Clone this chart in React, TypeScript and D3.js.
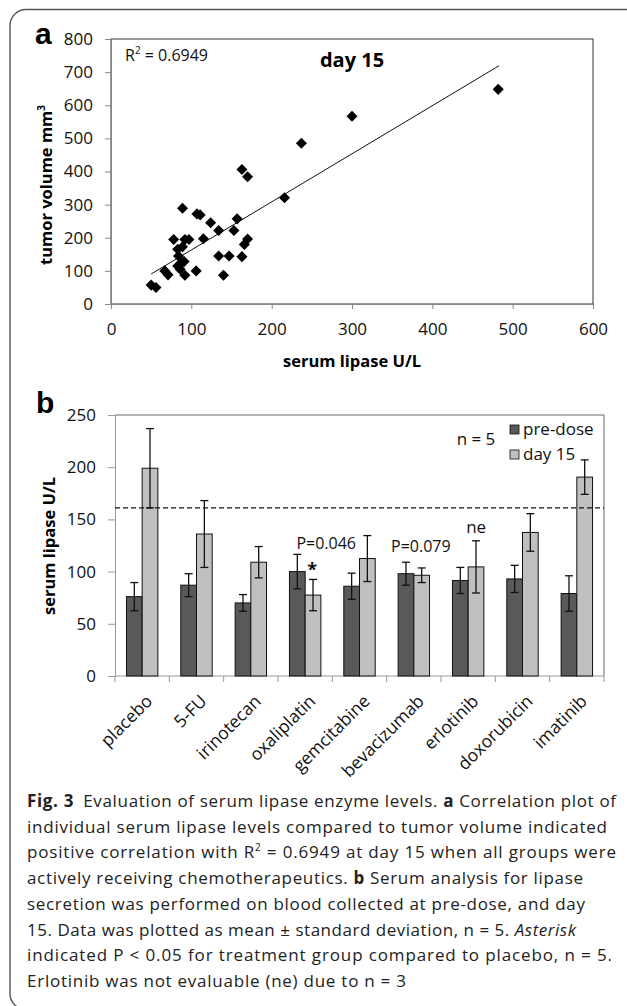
import * as d3 from "d3";
import React, { Component } from "react";

// panel a: individual animals at day 15
const lipase = [50, 56, 67, 71, 78, 83, 84, 83, 86, 88, 91, 89, 92, 97, 89, 92, 106, 107, 111, 115, 124, 134, 134, 140, 147, 153, 157, 163, 170, 163, 166, 170, 216, 237, 300, 482];
const volume = [57, 50, 100, 88, 195, 165, 145, 115, 105, 125, 128, 173, 195, 195, 289, 87, 100, 272, 269, 197, 245, 222, 145, 87, 145, 222, 257, 406, 384, 143, 180, 196, 321, 485, 567, 648];
const trendSlope = 1.452;
const trendIntercept = 17.9;
const trendRange = [50, 483];
const rSquared = "0.6949";
const scatterXTicks = [0, 100, 200, 300, 400, 500, 600];
const scatterYTicks = [0, 100, 200, 300, 400, 500, 600, 700, 800];

// panel b: group means +/- sd
const drugs = ["placebo", "5-FU", "irinotecan", "oxaliplatin", "gemcitabine", "bevacizumab", "erlotinib", "doxorubicin", "imatinib"];
const preDose = [76, 87, 70, 100, 86, 98, 91.5, 93, 79];
const preDoseSd = [13.5, 11, 8, 16.5, 12.5, 11, 12.5, 13, 17];
const day15 = [199, 136, 109, 77.5, 112.5, 96.5, 104.5, 137.5, 190.5];
const day15Sd = [38, 32, 15, 15, 22, 7, 25, 18, 16.5];
const barYTicks = [0, 50, 100, 150, 200, 250];
const upperNormal = 161;
const notes = [
  { drug: "oxaliplatin", value: 121.5, dx: 21, text: "P=0.046", size: 16, bold: false },
  { drug: "oxaliplatin", value: 95.5, dx: 7, text: "*", size: 18, bold: true },
  { drug: "bevacizumab", value: 119, dx: 7, text: "P=0.079", size: 16, bold: false },
  { drug: "erlotinib", value: 137, dx: 8, text: "ne", size: 17, bold: false },
];

const FONT = "'Open Sans', 'Liberation Sans', sans-serif";

const caption = [
  [{ t: "Fig. 3", w: 700 }, { t: "\u2002Evaluation of serum lipase enzyme levels. " }, { t: "a", w: 700 }, { t: " Correlation plot of" }],
  [{ t: "individual serum lipase levels compared to tumor volume indicated" }],
  [{ t: "positive correlation with R" }, { t: "2", sup: true }, { t: " = 0.6949 at day 15 when all groups were" }],
  [{ t: "actively receiving chemotherapeutics. " }, { t: "b", w: 700 }, { t: " Serum analysis for lipase" }],
  [{ t: "secretion was performed on blood collected at pre-dose, and day" }],
  [{ t: "15. Data was plotted as mean \u00b1 standard deviation, n = 5. " }, { t: "Asterisk", it: true }],
  [{ t: "indicated P < 0.05 for treatment group compared to placebo, n = 5." }],
  [{ t: "Erlotinib was not evaluable (ne) due to n = 3" }],
];
const captionRight = [616, 607, 616, 583, 585, 576, 612, 406];

export default class App extends Component {
  chartRef: any;
  componentDidMount(): void {
    const W = 627;
    const H = 1006;
    const svg = d3.select(this.chartRef).attr("width", W).attr("height", H);
    svg.selectAll("*").remove();

    svg
      .append("rect")
      .attr("x", 10)
      .attr("y", 9.5)
      .attr("width", 640)
      .attr("height", 1000)
      .attr("rx", 16)
      .attr("fill", "none")
      .attr("stroke", "#555")
      .attr("stroke-width", 1.4);

    // ---------- panel a ----------
    const xS = d3.scaleLinear().domain([0, 600]).range([111, 593]);
    const yS = d3.scaleLinear().domain([0, 800]).range([304, 39]);
    const a = svg.append("g").attr("font-family", FONT);

    a.append("rect")
      .attr("x", 111)
      .attr("y", 39)
      .attr("width", 482)
      .attr("height", 265)
      .attr("fill", "none")
      .attr("stroke", "#333")
      .attr("stroke-width", 1);

    a.append("g")
      .attr("transform", "translate(0,304)")
      .call(d3.axisBottom(xS).tickValues(scatterXTicks).tickSize(5).tickPadding(14))
      .call((g) => g.select(".domain").attr("stroke", "#888"))
      .call((g) => g.selectAll(".tick line").attr("stroke", "#888"))
      .call((g) => g.selectAll(".tick text").attr("font-size", 17).attr("fill", "#111").attr("font-family", FONT));

    a.append("g")
      .attr("transform", "translate(111,0)")
      .call(d3.axisLeft(yS).tickValues(scatterYTicks).tickSize(6).tickPadding(12))
      .call((g) => g.select(".domain").attr("stroke", "#888"))
      .call((g) => g.selectAll(".tick line").attr("stroke", "#888"))
      .call((g) => g.selectAll(".tick text").attr("font-size", 17).attr("fill", "#111").attr("font-family", FONT));

    a.append("line")
      .attr("x1", xS(trendRange[0]))
      .attr("y1", yS(trendSlope * trendRange[0] + trendIntercept))
      .attr("x2", xS(trendRange[1]))
      .attr("y2", yS(trendSlope * trendRange[1] + trendIntercept))
      .attr("stroke", "#111")
      .attr("stroke-width", 1);

    const diamond = d3.symbol().type(d3.symbolDiamond2).size(78);
    a.selectAll(".pt")
      .data(lipase.map((x, i) => ({ x, y: volume[i] })))
      .enter()
      .append("path")
      .attr("class", "pt")
      .attr("d", diamond)
      .attr("transform", (d) => `translate(${xS(d.x)},${yS(d.y)})`)
      .attr("fill", "#000");

    const r2 = a.append("text").attr("x", 125).attr("y", 61).attr("font-size", 16).attr("fill", "#111");
    r2.append("tspan").text("R");
    r2.append("tspan").text("2").attr("font-size", 10).attr("dy", -7);
    r2.append("tspan").text(` = ${rSquared}`).attr("dy", 7);

    a.append("text").attr("x", 352).attr("y", 67).attr("text-anchor", "middle").attr("font-size", 20).attr("font-weight", 700).text("day 15");

    a.append("text").attr("x", 352).attr("y", 367).attr("text-anchor", "middle").attr("font-size", 16.5).attr("font-weight", 700).text("serum lipase U/L");

    const yl = a
      .append("text")
      .attr("transform", "translate(52,185) rotate(-90)")
      .attr("text-anchor", "middle")
      .attr("font-size", 16.5)
      .attr("font-weight", 700);
    yl.append("tspan").text("tumor volume mm");
    yl.append("tspan").text("3").attr("font-size", 10).attr("dy", -7);

    svg.append("text").attr("x", 35).attr("y", 44).attr("font-family", "'Liberation Sans', Arial, sans-serif").attr("font-size", 30).attr("font-weight", 700).text("a");

    // ---------- panel b ----------
    const xB = d3.scaleBand().domain(drugs).range([115, 604]);
    const yB = d3.scaleLinear().domain([0, 250]).range([676, 415]);
    const bw = 15.7;
    const b = svg.append("g").attr("font-family", FONT);

    b.append("line").attr("x1", 115).attr("x2", 604).attr("y1", 415).attr("y2", 415).attr("stroke", "#666");
    b.append("line").attr("x1", 604).attr("x2", 604).attr("y1", 415).attr("y2", 676).attr("stroke", "#666");

    b.append("g")
      .attr("transform", "translate(115,0)")
      .call(d3.axisLeft(yB).tickValues(barYTicks).tickSize(7).tickPadding(12))
      .call((g) => g.select(".domain").attr("stroke", "#999"))
      .call((g) => g.selectAll(".tick line").attr("stroke", "#999"))
      .call((g) => g.selectAll(".tick text").attr("font-size", 17).attr("fill", "#111").attr("font-family", FONT));

    b.append("line").attr("x1", 115).attr("x2", 604).attr("y1", 676).attr("y2", 676).attr("stroke", "#999");
    b.selectAll(".xtick")
      .data(drugs.map((d) => xB(d)).concat([xB(drugs[drugs.length - 1]) + xB.bandwidth()]))
      .enter()
      .append("line")
      .attr("class", "xtick")
      .attr("x1", (d) => d)
      .attr("x2", (d) => d)
      .attr("y1", 676)
      .attr("y2", 682)
      .attr("stroke", "#999");

    const groups = drugs.map((d, i) => ({
      drug: d,
      c: xB(d) + xB.bandwidth() / 2,
      bars: [
        { v: preDose[i], sd: preDoseSd[i], off: -bw, fill: "#595959" },
        { v: day15[i], sd: day15Sd[i], off: 0, fill: "#c0c0c0" },
      ],
    }));

    const g = b.selectAll(".grp").data(groups).enter().append("g").attr("class", "grp");
    g.selectAll(".bar")
      .data((d) => d.bars.map((bar) => ({ ...bar, c: d.c })))
      .enter()
      .append("rect")
      .attr("x", (d) => d.c + d.off)
      .attr("y", (d) => yB(d.v))
      .attr("width", bw)
      .attr("height", (d) => yB(0) - yB(d.v))
      .attr("fill", (d) => d.fill)
      .attr("stroke", "#111")
      .attr("stroke-width", 1);

    const err = g
      .selectAll(".err")
      .data((d) => d.bars.map((bar) => ({ ...bar, c: d.c })))
      .enter()
      .append("g")
      .attr("transform", (d) => `translate(${d.c + d.off + bw / 2},0)`)
      .attr("stroke", "#111")
      .attr("stroke-width", 1.3);
    err.append("line").attr("y1", (d) => yB(d.v - d.sd)).attr("y2", (d) => yB(d.v + d.sd));
    err.append("line").attr("x1", -4).attr("x2", 4).attr("y1", (d) => yB(d.v + d.sd)).attr("y2", (d) => yB(d.v + d.sd));
    err.append("line").attr("x1", -4).attr("x2", 4).attr("y1", (d) => yB(d.v - d.sd)).attr("y2", (d) => yB(d.v - d.sd));

    b.append("line")
      .attr("x1", 115)
      .attr("x2", 604)
      .attr("y1", yB(upperNormal))
      .attr("y2", yB(upperNormal))
      .attr("stroke", "#111")
      .attr("stroke-width", 1.3)
      .attr("stroke-dasharray", "5,3");

    b.selectAll(".note")
      .data(notes)
      .enter()
      .append("text")
      .attr("x", (d) => xB(d.drug) + xB.bandwidth() / 2 + d.dx)
      .attr("y", (d) => yB(d.value))
      .attr("text-anchor", "middle")
      .attr("font-size", (d) => d.size)
      .attr("font-weight", (d) => (d.bold ? 700 : 400))
      .attr("fill", "#111")
      .text((d) => d.text);

    b.selectAll(".xl")
      .data(drugs)
      .enter()
      .append("text")
      .attr("transform", (d) => `translate(${xB(d) + xB.bandwidth() / 2 + 7},${698}) rotate(-45)`)
      .attr("text-anchor", "end")
      .attr("dy", "0.35em")
      .attr("font-size", 17.5)
      .attr("fill", "#111")
      .text((d) => d);

    b.append("text")
      .attr("transform", "translate(55,546) rotate(-90)")
      .attr("text-anchor", "middle")
      .attr("font-size", 16.5)
      .attr("font-weight", 700)
      .text("serum lipase U/L");

    // legend
    const leg = b.append("g");
    [
      { label: "pre-dose", fill: "#595959", y: 425 },
      { label: "day 15", fill: "#c0c0c0", y: 450 },
    ].forEach((l) => {
      leg.append("rect").attr("x", 510).attr("y", l.y).attr("width", 9).attr("height", 9).attr("fill", l.fill).attr("stroke", "#111").attr("stroke-width", 0.8);
      leg.append("text").attr("x", 523).attr("y", l.y + 10).attr("font-size", 17).attr("fill", "#111").text(l.label);
    });
    leg.append("text").attr("x", 476).attr("y", 445).attr("text-anchor", "middle").attr("font-size", 17).attr("fill", "#111").text("n = 5");

    svg.append("text").attr("x", 36).attr("y", 413).attr("font-family", "'Liberation Sans', Arial, sans-serif").attr("font-size", 30).attr("font-weight", 700).text("b");

    // ---------- caption ----------
    const cap = svg.append("g").attr("font-family", FONT).attr("font-size", 17).attr("fill", "#222");
    caption.forEach((line, i) => {
      const t = cap
        .append("text")
        .attr("x", 27)
        .attr("y", 807 + i * 25.7)
        .attr("textLength", captionRight[i] - 27)
        .attr("lengthAdjust", "spacing");
      let raised = false;
      line.forEach((seg: any) => {
        const s = t.append("tspan").text(seg.t);
        if (seg.w) s.attr("font-weight", seg.w);
        if (seg.it) s.attr("font-style", "italic");
        if (seg.sup) {
          s.attr("font-size", 10).attr("dy", -7);
          raised = true;
        } else if (raised) {
          s.attr("dy", 7);
          raised = false;
        }
      });
    });
  }
  render() {
    return (
      <div style={{ position: "absolute", left: 0, top: 0 }}>
        <svg ref={(r) => (this.chartRef = r)} style={{ display: "block" }}></svg>
      </div>
    );
  }
}
